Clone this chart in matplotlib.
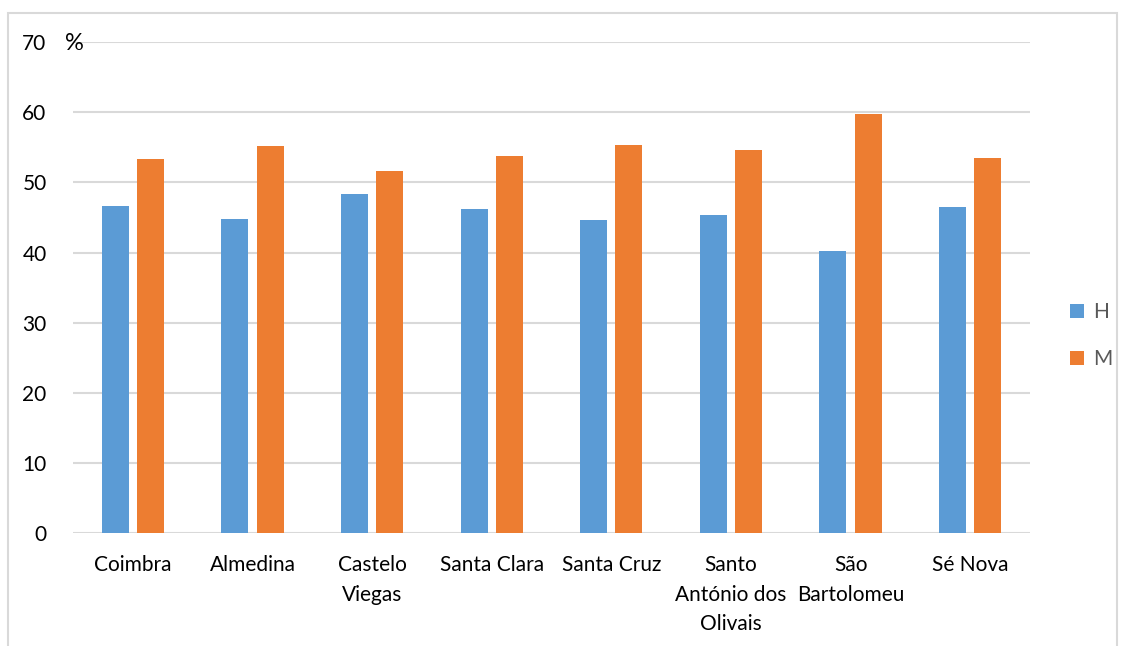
import matplotlib
matplotlib.use("Agg")
import matplotlib.pyplot as plt
import numpy as np
from matplotlib.patches import Rectangle

categories = ["Coimbra", "Almedina", "Castelo\nViegas", "Santa Clara", "Santa Cruz",
              "Santo\nAntónio dos\nOlivais", "São\nBartolomeu", "Sé Nova"]
H = [46.7, 44.8, 48.3, 46.2, 44.7, 45.4, 40.2, 46.5]
M = [53.3, 55.2, 51.7, 53.8, 55.3, 54.6, 59.8, 53.5]
yticks = [0, 10, 20, 30, 40, 50, 60, 70]

plt.rcParams['font.family'] = ['Lato', 'DejaVu Sans']

W, Hpx = 1125, 646
fig = plt.figure(figsize=(W / 100, Hpx / 100), dpi=100)
ax = fig.add_axes([73 / W, 1 - 533 / Hpx, (1030 - 73) / W, (533 - 42.3) / Hpx])

# outer chart border
fig.patches.append(Rectangle((8 / W, -0.05), (1117 - 8) / W, 1.05 - 13 / Hpx,
                             transform=fig.transFigure, fill=False,
                             edgecolor="#d9d9d9", linewidth=1.5))

x = np.arange(len(categories))
bw = 0.225
gap = 0.07
ax.bar(x - (bw + gap) / 2, H, bw, color="#5B9BD5", label="H", zorder=3)
ax.bar(x + (bw + gap) / 2, M, bw, color="#ED7D31", label="M", zorder=3)

ax.set_xlim(-0.5, len(categories) - 0.5)
ax.set_ylim(0, 70)
ax.set_yticks(yticks)
ax.set_yticklabels([str(v) for v in yticks])
ax.set_xticks(x)
ax.set_xticklabels(categories, linespacing=1.6)
ax.tick_params(axis="both", length=0, labelsize=15, colors="#000000")
ax.tick_params(axis="y", pad=19)
ax.tick_params(axis="x", pad=16)
ax.grid(axis="y", color="#d9d9d9", linewidth=1.5, zorder=0)
for s in ax.spines.values():
    s.set_visible(False)

fig.text(65 / W, 1 - 43 / Hpx, "%", fontsize=17, va="center", ha="left", color="#000000")

leg = ax.legend(loc="center left", bbox_to_anchor=(1.022, 0.402), frameon=False,
                fontsize=15, handlelength=0.7, handleheight=0.7, labelspacing=1.3,
                handletextpad=0.4)
for t in leg.get_texts():
    t.set_color("#595959")

fig.savefig("out.png", dpi=100)
